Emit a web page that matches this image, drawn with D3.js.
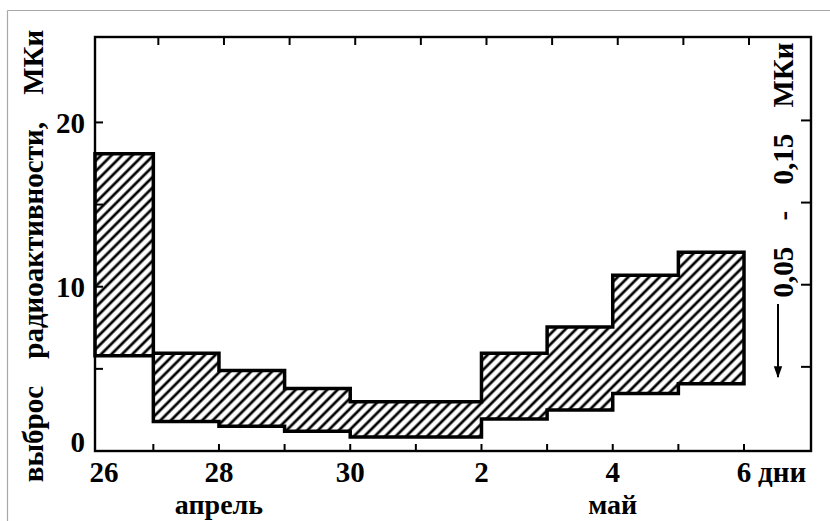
<!DOCTYPE html>
<html>
<head>
<meta charset="utf-8">
<script src="https://cdn.jsdelivr.net/npm/d3@7"></script>
<style>
  body { margin: 0; background: #fff; }
  text { font-family: "Liberation Serif", "DejaVu Serif", serif; font-weight: bold; fill: #000; }
</style>
</head>
<body>
<div id="chart"></div>
<script>
// bins: one per day, from the start date to the next day
var dayStarts = ["1986-04-26", "1986-04-27", "1986-04-28", "1986-04-29", "1986-04-30",
                 "1986-05-01", "1986-05-02", "1986-05-03", "1986-05-04", "1986-05-05"];
var releaseLow  = [5.8, 1.8, 1.5, 1.2, 0.85, 0.85, 1.95, 2.5, 3.5, 4.1];
var releaseHigh = [18.1, 5.95, 4.9, 3.8, 3.0, 3.0, 5.95, 7.55, 10.7, 12.1];

var tickDates  = ["1986-04-26", "1986-04-28", "1986-04-30", "1986-05-02", "1986-05-04", "1986-05-06"];
var tickLabels = ["26", "28", "30", "2", "4", "6"];
var monthNames = ["апрель", "май"];
var monthAt    = ["1986-04-28", "1986-05-04"];
var yTicks       = [0, 5, 10, 15, 20];
var yTickLabels  = [0, 10, 20];
var rightTicks   = [5, 10, 15, 20];

var width = 830, height = 521;
var margin = {top: 37, right: 19, bottom: 70, left: 95};

var svg = d3.select("#chart").append("svg")
    .attr("width", width)
    .attr("height", height);

var parse = d3.utcParse("%Y-%m-%d");

// the left axis sits a little after the start of the 26th
var x = d3.scaleUtc()
    .domain([new Date(Date.UTC(1986, 3, 26, 2, 40)), new Date(Date.UTC(1986, 4, 7, 0, 30))])
    .range([margin.left, width - margin.right])
    .clamp(true);

var y = d3.scaleLinear()
    .domain([0, 25.2])
    .range([height - margin.bottom, margin.top]);

// grey frame of the scan
svg.append("line").attr("x1", 7.5).attr("y1", 10.5).attr("x2", width).attr("y2", 10.5)
    .attr("stroke", "#a8a8a8").attr("stroke-width", 1.2);
svg.append("line").attr("x1", 7.5).attr("y1", 10.5).attr("x2", 7.5).attr("y2", height)
    .attr("stroke", "#a8a8a8").attr("stroke-width", 1.2);

// hatch pattern
var defs = svg.append("defs");
defs.append("pattern")
    .attr("id", "hatch")
    .attr("patternUnits", "userSpaceOnUse")
    .attr("width", 7.4)
    .attr("height", 7.4)
    .attr("patternTransform", "rotate(45)")
    .append("line")
    .attr("x1", 3.7).attr("y1", -1).attr("x2", 3.7).attr("y2", 9)
    .attr("stroke", "#000")
    .attr("stroke-width", 2.7);

defs.append("marker")
    .attr("id", "arrow")
    .attr("viewBox", "0 0 10 10")
    .attr("refX", 9).attr("refY", 5)
    .attr("markerWidth", 6).attr("markerHeight", 6)
    .attr("markerUnits", "strokeWidth")
    .attr("orient", "auto")
    .append("path")
    .attr("d", "M0,1.5 L10,5 L0,8.5 z")
    .attr("fill", "#000");

var x0 = margin.left, x1 = width - margin.right;
var yb = height - margin.bottom, yt = margin.top;
var dayTicks = d3.utcDay.range(parse("1986-04-27"), parse("1986-05-07"));

// ticks (all pointing inward)
svg.append("g").selectAll("line")
    .data(dayTicks)
    .join("line")
    .attr("x1", function(d) { return x(d); })
    .attr("x2", function(d) { return x(d); })
    .attr("y1", yb).attr("y2", yb - 7)
    .attr("stroke", "#000").attr("stroke-width", 2);

svg.append("g").selectAll("line")
    .data(dayTicks)
    .join("line")
    .attr("x1", function(d) { return x(d) + 5; })
    .attr("x2", function(d) { return x(d) + 5; })
    .attr("y1", yt).attr("y2", yt + 8)
    .attr("stroke", "#000").attr("stroke-width", 2);

svg.append("g").selectAll("line")
    .data(yTicks)
    .join("line")
    .attr("x1", x0).attr("x2", x0 + 8)
    .attr("y1", function(d) { return y(d); })
    .attr("y2", function(d) { return y(d); })
    .attr("stroke", "#000").attr("stroke-width", 2);

svg.append("g").selectAll("line")
    .data(rightTicks)
    .join("line")
    .attr("x1", x1).attr("x2", x1 - 10)
    .attr("y1", function(d) { return y(d) - 2; })
    .attr("y2", function(d) { return y(d) - 2; })
    .attr("stroke", "#000").attr("stroke-width", 2);

// hatched release band as one stepped outline
var pts = [];
dayStarts.forEach(function(d, i) {
    var s = parse(d), e = d3.utcDay.offset(s, 1);
    pts.push([x(s), y(releaseHigh[i])]);
    pts.push([x(e), y(releaseHigh[i])]);
});
for (var i = dayStarts.length - 1; i >= 0; i--) {
    var s = parse(dayStarts[i]), e = d3.utcDay.offset(s, 1);
    pts.push([x(e), y(releaseLow[i])]);
    pts.push([x(s), y(releaseLow[i])]);
}
svg.append("path")
    .attr("d", d3.line()(pts) + "Z")
    .attr("fill", "url(#hatch)")
    .attr("stroke", "#000")
    .attr("stroke-width", 3.5)
    .attr("stroke-linejoin", "miter");

// frame
svg.append("rect")
    .attr("x", x0).attr("y", yt)
    .attr("width", x1 - x0).attr("height", yb - yt)
    .attr("fill", "none")
    .attr("stroke", "#000")
    .attr("stroke-width", 2.4);

// y tick labels
svg.append("g").selectAll("text")
    .data(yTickLabels)
    .join("text")
    .attr("x", x0 - 10)
    .attr("y", function(d) { return d === 0 ? y(d) - 9 : y(d); })
    .attr("dy", "0.35em")
    .attr("text-anchor", "end")
    .attr("font-size", 29)
    .text(function(d) { return d; });

// x tick labels
svg.append("g").selectAll("text")
    .data(tickDates)
    .join("text")
    .attr("x", function(d, i) { return x(parse(d)) + (i === 0 ? 9 : 0); })
    .attr("y", yb + 31)
    .attr("text-anchor", "middle")
    .attr("font-size", 29)
    .text(function(d, i) { return tickLabels[i]; });

svg.append("text")
    .attr("x", x(parse(tickDates[tickDates.length - 1])) + 14)
    .attr("y", yb + 31)
    .attr("font-size", 29)
    .text("дни");

svg.append("g").selectAll("text")
    .data(monthAt)
    .join("text")
    .attr("x", function(d) { return x(parse(d)); })
    .attr("y", yb + 63)
    .attr("text-anchor", "middle")
    .attr("font-size", 28)
    .text(function(d, i) { return monthNames[i]; });

// axis titles
svg.append("text")
    .attr("transform", "translate(43,256) rotate(-90)")
    .attr("text-anchor", "middle")
    .attr("font-size", 29)
    .style("word-spacing", "20px")
    .text("выброс радиоактивности, МКи");

svg.append("text")
    .attr("transform", "translate(793,170) rotate(-90)")
    .attr("text-anchor", "middle")
    .attr("font-size", 29)
    .style("word-spacing", "19px")
    .text("0,05 - 0,15 МКи");

svg.append("line")
    .attr("x1", 778).attr("y1", 304)
    .attr("x2", 778).attr("y2", 377)
    .attr("stroke", "#000")
    .attr("stroke-width", 2)
    .attr("marker-end", "url(#arrow)");
</script>
</body>
</html>
